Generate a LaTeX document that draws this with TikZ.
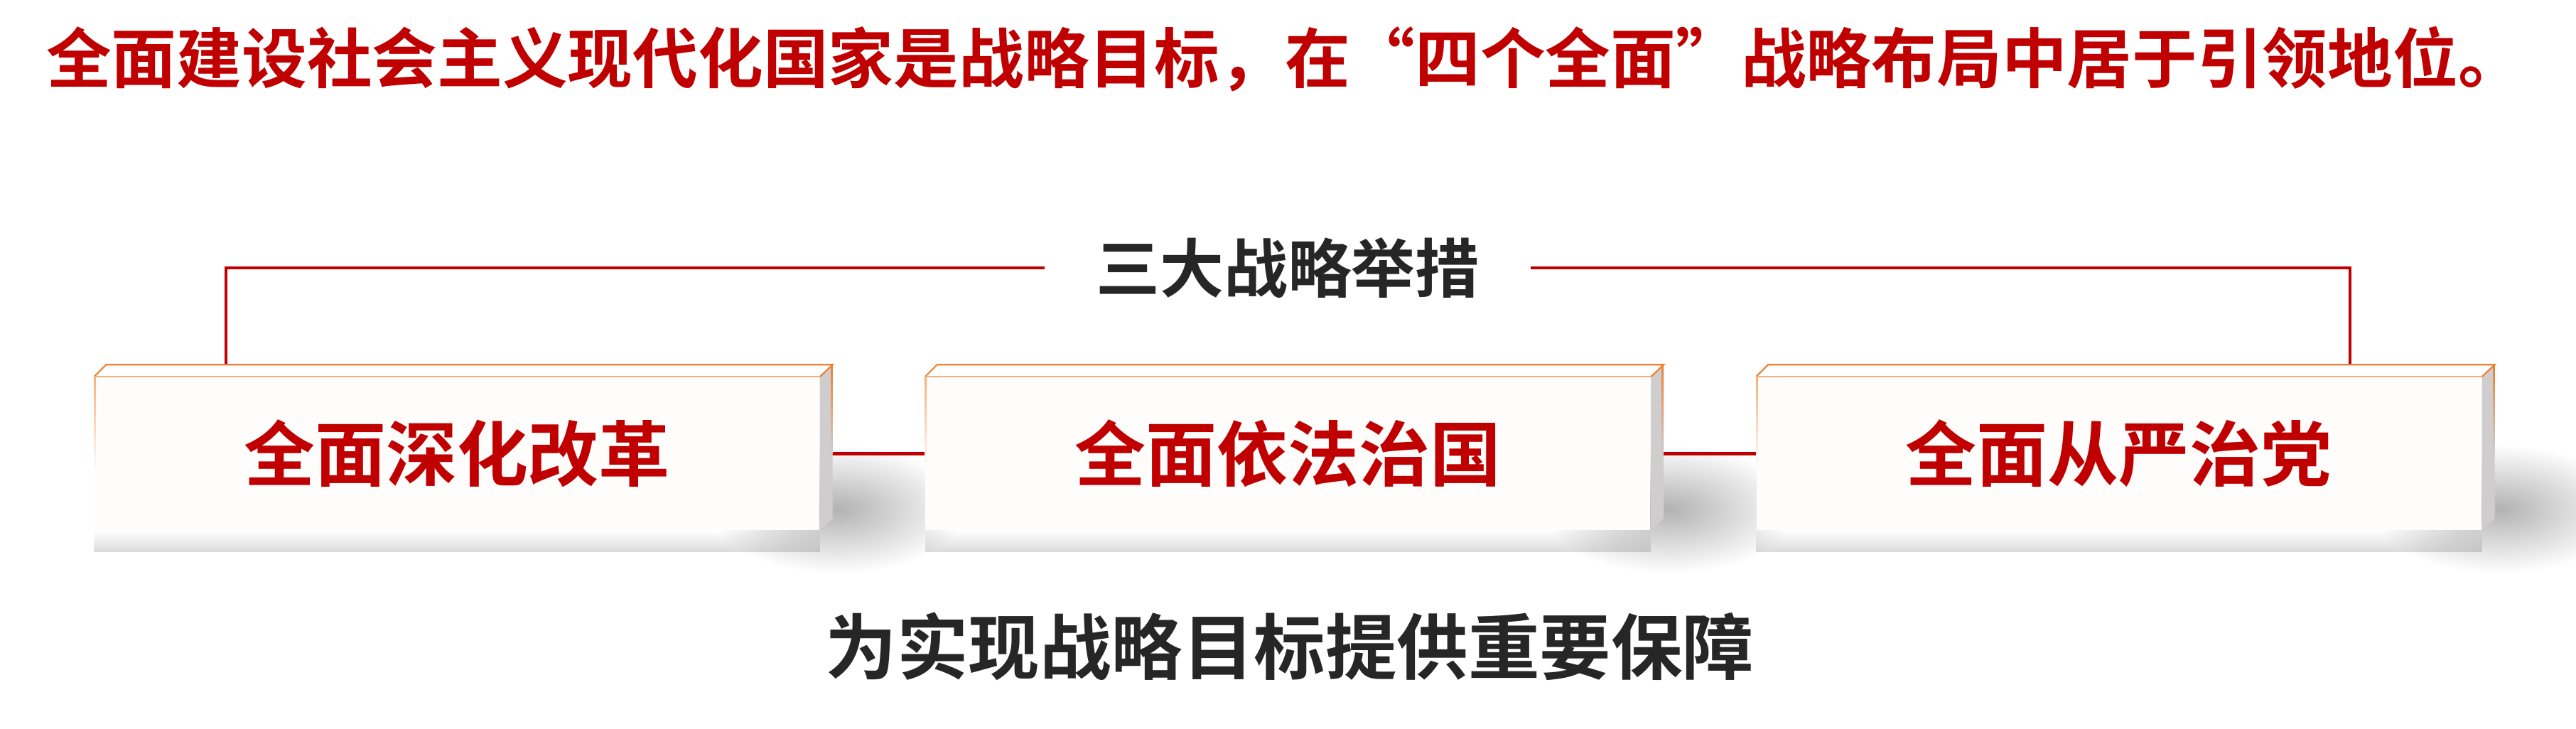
\documentclass[tikz,border=0pt]{standalone}
\usepackage{fontspec}
\newfontfamily\hei{Noto Sans CJK SC}[BoldFont={Noto Sans CJK SC Bold}]
\usetikzlibrary{calc,positioning,backgrounds,fadings}

\definecolor{zhred}{HTML}{C00000}
\definecolor{zhgray}{HTML}{262626}
\definecolor{edgeorange}{HTML}{F07F2F}
\definecolor{edgelight}{HTML}{F9AE7A}
\definecolor{sidegray}{HTML}{CFCDCD}
\definecolor{facepink}{HTML}{FFFCFC}

\pgfdeclareradialshading{yinyingshade}{\pgfpointorigin}{color(0bp)=(pgftransparent!0); color(25bp)=(pgftransparent!100); color(50bp)=(pgftransparent!100)}
\pgfdeclarefading{yinying}{\pgfuseshading{yinyingshade}}

\begin{document}
\begin{tikzpicture}[
		cuoshi/.style={fill=facepink, minimum width=10.2cm, minimum height=2.15cm, inner sep=0pt,
			text=zhred, font=\hei\bfseries\fontsize{28.45pt}{34pt}\selectfont},
		hongxian/.style={draw=zhred, line width=1.3pt},
	]
	
	\useasboundingbox (0,0) rectangle (36.25,10.26);
	
	\node (biaoti) at (18.08,9.43) [text=zhred, font=\hei\bfseries\fontsize{26.1pt}{31pt}\selectfont]
	{全面建设社会主义现代化国家是战略目标，在“四个全面”战略布局中居于引领地位。};
	
	\node (jucuo) at (18.12,6.49) [inner xsep=0.71cm, text=zhgray, font=\hei\bfseries\fontsize{25.6pt}{31pt}\selectfont] {三大战略举措};
	
	\node[cuoshi] (gaige) at (6.43,3.875) {全面深化改革};
	\node[cuoshi, right=1.48cm of gaige] (fazhi) {全面依法治国};
	\node[cuoshi, right=1.48cm of fazhi] (zhidang) {全面从严治党};
	
	\node (baozhang) at (18.15,1.16) [text=zhgray, font=\hei\bfseries\fontsize{28.6pt}{34pt}\selectfont] {为实现战略目标提供重要保障};
	
	% bracket from the heading down to the outer boxes
	\draw[hongxian] (jucuo.west) -| ($(gaige.north)+(-3.25,0.17)$);
	\draw[hongxian] (jucuo.east) -| ($(zhidang.north)+(3.25,0.17)$);
	
	% shadows and links behind the boxes
	\begin{scope}[on background layer]
		\foreach \n in {gaige,fazhi,zhidang}{
			\fill[black, opacity=0.14, path fading=north] (\n.south west) rectangle ($(\n.south east)+(0,-0.3)$);
			\fill[black, opacity=0.3, path fading=yinying] ($(\n.south east)+(0.25,0.3)$) ellipse (1.8 and 0.9);
		}
		\draw[hongxian, line width=1.4pt] (gaige.east) -- (fazhi.west);
		\draw[hongxian, line width=1.4pt] (fazhi.east) -- (zhidang.west);
	\end{scope}
	
	% top and side faces
	\foreach \n in {gaige,fazhi,zhidang}{
		\fill[white] (\n.north west) -- ++(0.17,0.17) -- ($(\n.north east)+(0.18,0.17)$) -- (\n.north east) -- cycle;
		\fill[sidegray] (\n.north east) -- ++(0.18,0.17) -- ($(\n.south east)+(0.18,0.17)$) -- (\n.south east) -- cycle;
		\shade[top color=edgelight, bottom color=facepink] (\n.north west) rectangle ($(\n.west)+(0.025,-0.2)$);
		\shade[top color=edgeorange, bottom color=sidegray] ($(\n.north east)+(0.155,0.17)$) rectangle ($(\n.east)+(0.18,0)$);
		\draw[edgeorange, line width=0.6pt] (\n.north west) -- ++(0.17,0.17) -- ($(\n.north east)+(0.18,0.17)$) -- (\n.north east);
		\draw[edgelight, line width=0.6pt] (\n.north west) -- (\n.north east);
	}
	
\end{tikzpicture}
\end{document}
